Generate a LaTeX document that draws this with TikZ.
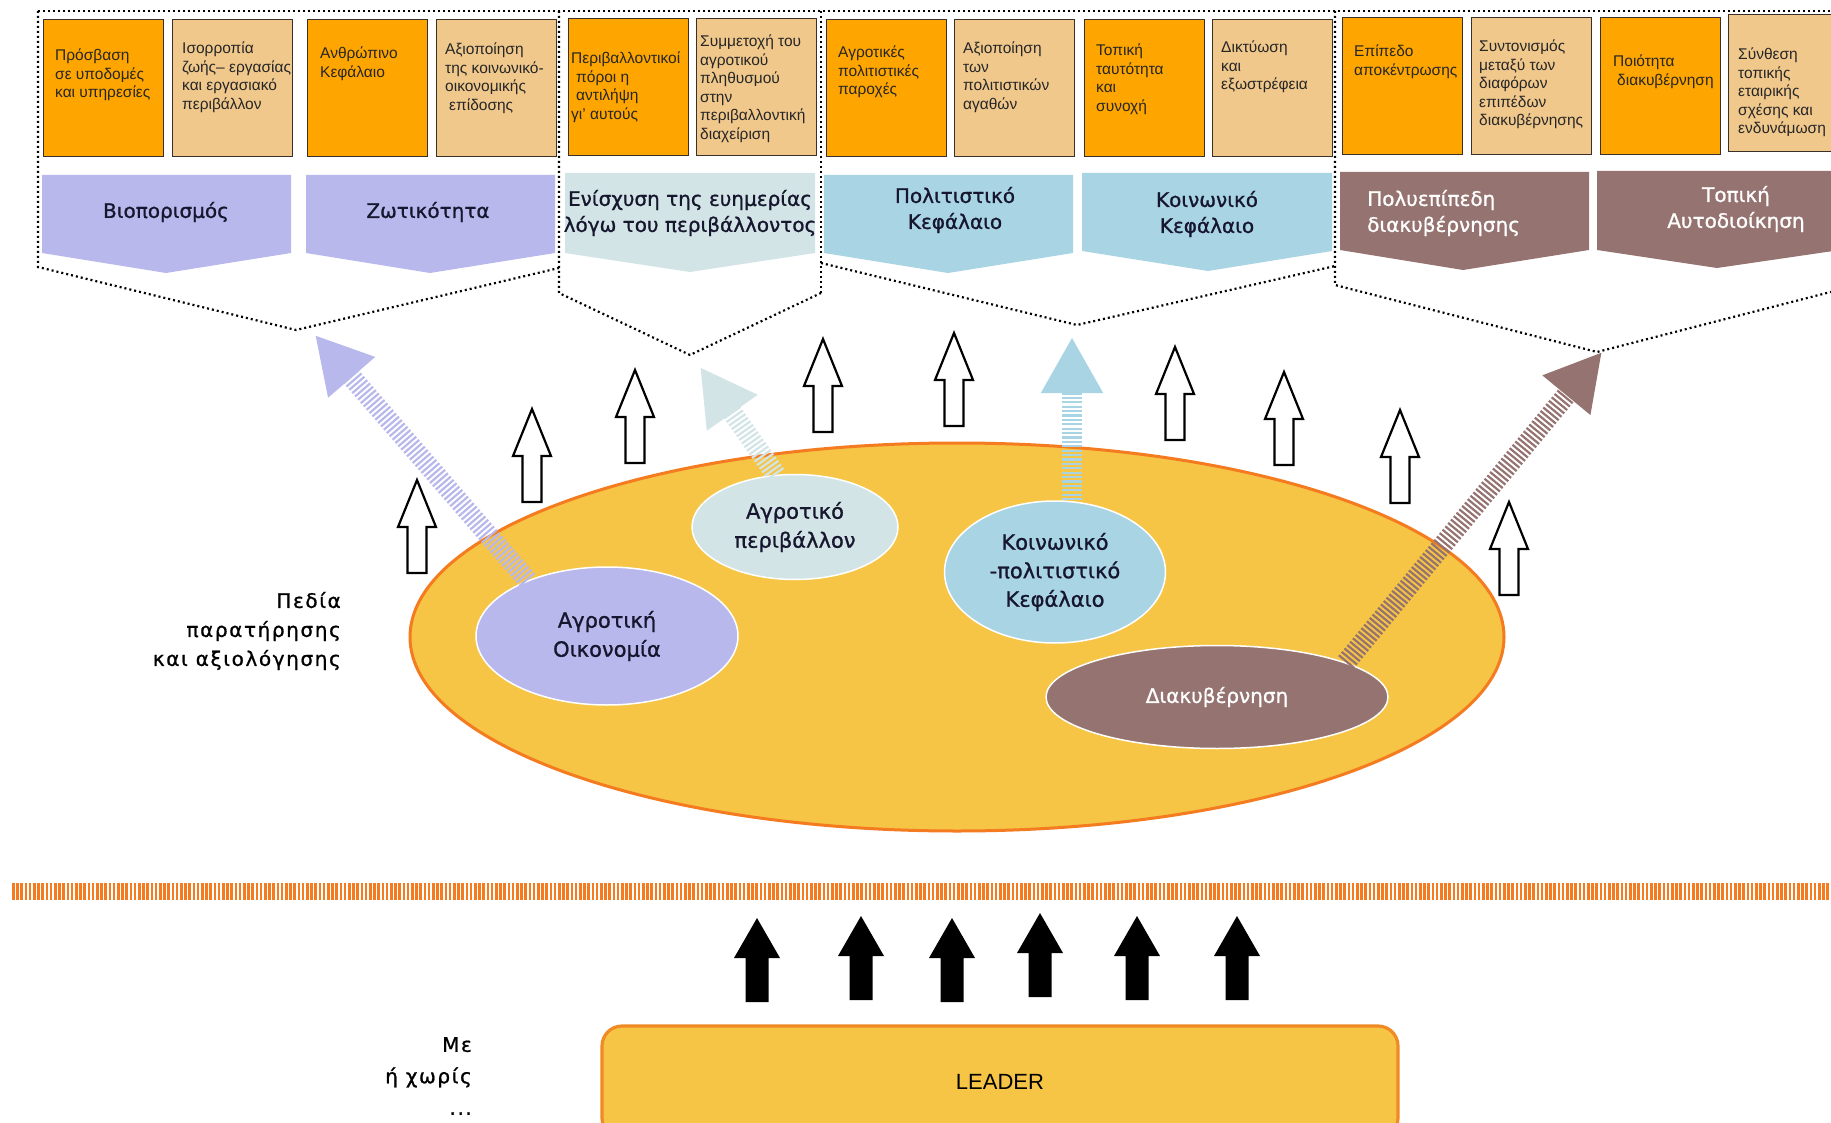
\documentclass[tikz,border=0pt]{standalone}
\usepackage{fontspec}
\setmainfont{DejaVu Sans}
\newfontfamily\boxfont{Liberation Sans}
\newfontfamily\bandfont[FakeBold=1]{DejaVu Sans}
\newfontfamily\widefont[LetterSpace=8,FakeBold=1]{DejaVu Sans}
\usepackage{tikz}
\usetikzlibrary{shapes.geometric,arrows.meta}
\definecolor{box_orange}{HTML}{FFA500}
\definecolor{box_tan}{HTML}{F0C88C}
\definecolor{box_edge}{HTML}{3A3028}
\definecolor{box_ink}{HTML}{262626}
\definecolor{band_lilac}{HTML}{B8B8EC}
\definecolor{band_mist}{HTML}{D3E4E6}
\definecolor{band_sky}{HTML}{A9D4E4}
\definecolor{band_brown}{HTML}{957371}
\definecolor{band_ink}{HTML}{16162E}
\definecolor{field_gold}{HTML}{F6C545}
\definecolor{field_edge}{HTML}{F47B20}
\definecolor{leader_edge}{HTML}{F08A24}

\tikzset{
    box/.style={anchor=north west, draw=box_edge, line width=1.3pt,
        minimum width=120pt, minimum height=137pt, inner sep=0pt},
    boxo/.style={box, fill=box_orange},
    boxt/.style={box, fill=box_tan},
    boxtext/.style={anchor=north west, align=left, inner sep=0pt, text=box_ink,
        font=\boxfont\fontsize{15.5}{18.5}\selectfont},
    bandtext/.style={align=center, inner sep=0pt, text=band_ink,
        font=\bandfont\fontsize{20}{26}\selectfont},
    frame/.style={draw=black, line width=2.2pt, dash pattern=on 2pt off 3pt},
    field/.style={ellipse, inner sep=0pt, align=center, text=band_ink,
        font=\bandfont\fontsize{21}{29}\selectfont, draw=white, line width=1.5pt},
    hatch/.style={draw=#1, line width=20pt, dash pattern=on 2.2pt off 2.2pt,
        -{Triangle[width=58pt,length=56pt]}},
    hollowup/.pic={\draw[line width=2.2pt, fill=white, line join=miter]
        (0,0) -- (19,47) -- (9.5,47) -- (9.5,93) -- (-9.5,93) -- (-9.5,47) -- (-19,47) -- cycle;},
    solidup/.pic={\fill[black]
        (0,0) -- (23,40) -- (11.5,40) -- (11.5,84) -- (-11.5,84) -- (-11.5,40) -- (-23,40) -- cycle;},
    sidetext/.style={align=right, inner sep=0pt, text=black},
    leaderbox/.style={draw=leader_edge, line width=3.2pt, fill=field_gold, rounded corners=20pt,
        minimum width=796pt, minimum height=112pt, text=black,
        font=\boxfont\fontsize{22}{26}\selectfont},
}

\begin{document}
\begin{tikzpicture}[x=1pt, y=-1pt]
    \useasboundingbox (0,0) rectangle (1831,1123);

    % chevron bands
    \fill[band_lilac] (42,175) -- (291,175) -- (291,253) -- (166,273) -- (42,253) -- cycle;
    \fill[band_lilac] (306,175) -- (555,175) -- (555,253) -- (430,273) -- (306,253) -- cycle;
    \fill[band_mist] (565,173) -- (815,173) -- (815,253) -- (690,272) -- (565,253) -- cycle;
    \fill[band_sky] (824,175) -- (1073,175) -- (1073,253) -- (948,273) -- (824,253) -- cycle;
    \fill[band_sky] (1082,173) -- (1332,173) -- (1332,251) -- (1208,271) -- (1082,251) -- cycle;
    \fill[band_brown] (1340,172) -- (1589,172) -- (1589,250) -- (1463,270) -- (1340,250) -- cycle;
    \fill[band_brown] (1597,171) -- (1840,171) -- (1840,250) -- (1717,268) -- (1597,250) -- cycle;

    \node[bandtext] (livelihood) at (166,212) {Βιοπορισμός};
    \node[bandtext] (vitality) at (428,212) {Ζωτικότητα};
    \node[bandtext] (wellbeing) at (690,213) {Ενίσχυση της ευημερίας\\λόγω του περιβάλλοντος};
    \node[bandtext] (cultcap) at (955,210) {Πολιτιστικό\\Κεφάλαιο};
    \node[bandtext] (soccap) at (1207,214) {Κοινωνικό\\Κεφάλαιο};
    \node[bandtext, text=white, align=left, anchor=west] (multigov) at (1367,213) {Πολυεπίπεδη\\διακυβέρνησης};
    \node[bandtext, text=white] (localgov) at (1736,209) {Τοπική\\Αυτοδιοίκηση};

    % indicator boxes
    \node[boxo] (access) at (43,19) {};
    \node[boxt] (balance) at (172,19) {};
    \node[boxo] (human) at (307,19) {};
    \node[boxt] (perform) at (436,19) {};
    \node[boxo] (envres) at (568,18) {};
    \node[boxt] (envpart) at (696,18) {};
    \node[boxo] (cultprov) at (826,19) {};
    \node[boxt] (cultgoods) at (954,19) {};
    \node[boxo] (identity) at (1084,19) {};
    \node[boxt] (network) at (1212,19) {};
    \node[boxo] (decentr) at (1342,17) {};
    \node[boxt] (coord) at (1471,17) {};
    \node[boxo] (quality) at (1600,17) {};
    \node[boxt] (partner) at (1728,14) {};

    \node[boxtext] (accessT) at ([shift={(12,30)}]access.north west) {Πρόσβαση\\σε υποδομές\\και υπηρεσίες};
    \node[boxtext] (balanceT) at ([shift={(10,23)}]balance.north west) {Ισορροπία\\ζωής– εργασίας\\και εργασιακό\\περιβάλλον};
    \node[boxtext] (humanT) at ([shift={(13,28)}]human.north west) {Ανθρώπινο\\Κεφάλαιο};
    \node[boxtext] (performT) at ([shift={(9,24)}]perform.north west) {Αξιοποίηση\\της κοινωνικό-\\οικονομικής\\\hspace*{4pt}επίδοσης};
    \node[boxtext] (envresT) at ([shift={(3,34)}]envres.north west) {Περιβαλλοντικοί\\\hspace*{5pt}πόροι η\\\hspace*{5pt}αντιλήψη\\γι’ αυτούς};
    \node[boxtext] (envpartT) at ([shift={(4,17)}]envpart.north west) {Συμμετοχή του\\αγροτικού\\πληθυσμού\\στην\\περιβαλλοντική\\διαχείριση};
    \node[boxtext] (cultprovT) at ([shift={(12,27)}]cultprov.north west) {Αγροτικές\\πολιτιστικές\\παροχές};
    \node[boxtext] (cultgoodsT) at ([shift={(9,23)}]cultgoods.north west) {Αξιοποίηση\\των\\πολιτιστικών\\αγαθών};
    \node[boxtext] (identityT) at ([shift={(12,25)}]identity.north west) {Τοπική\\ταυτότητα\\και\\συνοχή};
    \node[boxtext] (networkT) at ([shift={(9,22)}]network.north west) {Δικτύωση\\και\\εξωστρέφεια};
    \node[boxtext] (decentrT) at ([shift={(12,28)}]decentr.north west) {Επίπεδο\\αποκέντρωσης};
    \node[boxtext] (coordT) at ([shift={(8,23)}]coord.north west) {Συντονισμός\\μεταξύ των\\διαφόρων\\επιπέδων\\διακυβέρνησης};
    \node[boxtext] (qualityT) at ([shift={(13,38)}]quality.north west) {Ποιότητα\\\hspace*{4pt}διακυβέρνηση};
    \node[boxtext] (partnerT) at ([shift={(10,34)}]partner.north west) {Σύνθεση\\τοπικής\\εταιρικής\\σχέσης και\\ενδυνάμωση};

    % dotted groups
    \draw[frame] (38,11) -- (1850,11);
    \draw[frame] (38,11) -- (38,267) -- (296,330) -- (559,268);
    \draw[frame] (559,11) -- (559,293) -- (690,355) -- (821,293);
    \draw[frame] (821,11) -- (821,293);
    \draw[frame] (821,263) -- (1077,325) -- (1335,266);
    \draw[frame] (1335,11) -- (1335,285) -- (1597,352) -- (1850,287);

    % observation fields
    \node[ellipse, draw=field_edge, line width=3pt, fill=field_gold, inner sep=0pt,
        minimum width=1094pt, minimum height=388pt] (fields) at (957,637) {};
    \node[field, fill=band_lilac, minimum width=262pt, minimum height=138pt] (aoik) at (607,636) {Αγροτική\\Οικονομία};
    \node[field, fill=band_mist, minimum width=206pt, minimum height=105pt] (aperib) at (795,527) {Αγροτικό\\περιβάλλον};
    \node[field, fill=band_sky, minimum width=221pt, minimum height=142pt, font=\bandfont\fontsize{21}{28.5}\selectfont] (kpk) at (1055,572) {Κοινωνικό\\-πολιτιστικό\\Κεφάλαιο};
    \node[field, fill=band_brown, text=white, minimum width=342pt, minimum height=103pt, font=\bandfont\fontsize{20}{24}\selectfont] (diak) at (1217,697) {Διακυβέρνηση};

    \coordinate (lilactip) at (315,335);
    \coordinate (misttip) at (700,367);
    \coordinate (skytip) at (1072,337);
    \coordinate (browntip) at (1602,352);
    \draw[hatch=band_lilac] (aoik.145) -- (lilactip);
    \draw[hatch=band_mist] (aperib.110) -- (misttip);
    \draw[hatch=band_sky] (kpk.north -| skytip) -- (skytip);
    \draw[hatch=band_brown] (diak.15) -- (browntip);

    \pic at (417,480) {hollowup};
    \pic at (532,409) {hollowup};
    \pic at (635,370) {hollowup};
    \pic at (823,339) {hollowup};
    \pic at (954,333) {hollowup};
    \pic at (1175,347) {hollowup};
    \pic at (1284,372) {hollowup};
    \pic at (1400,410) {hollowup};
    \pic at (1509,502) {hollowup};

    \node[sidetext, anchor=east, font=\widefont\fontsize{20}{29}\selectfont] (fieldlabel) at (341,631) {Πεδία\\παρατήρησης\\και αξιολόγησης};

    % separator and LEADER
    \draw[field_edge, line width=17pt, dash pattern=on 2.6pt off 1.6pt] (12,891) -- (1831,891);

    \pic at (757,918) {solidup};
    \pic at (861,916) {solidup};
    \pic at (952,918) {solidup};
    \pic at (1040,913) {solidup};
    \pic at (1137,916) {solidup};
    \pic at (1237,916) {solidup};

    \node[leaderbox] (leader) at (1000,1082) {LEADER};
    \node[sidetext, anchor=east, font=\widefont\fontsize{20}{31.5}\selectfont] (withlabel) at (472,1076) {Με\\ή χωρίς\\...};
\end{tikzpicture}
\end{document}
